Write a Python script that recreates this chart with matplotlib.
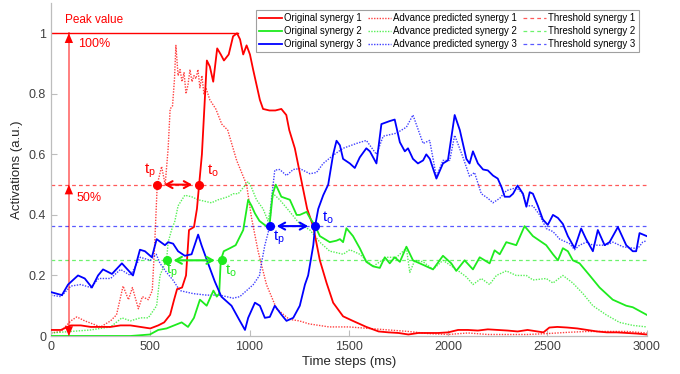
import matplotlib
matplotlib.use("Agg")
import matplotlib.pyplot as plt

plt.rcParams['font.family'] = ['Liberation Sans', 'DejaVu Sans']
plt.rcParams['mathtext.fontset'] = 'custom'
plt.rcParams['mathtext.rm'] = 'Liberation Sans'

# ---------------- data ----------------
red_orig_t = [0, 50, 100, 150, 200, 250, 300, 350, 400, 450, 500, 540, 570, 600, 620, 635, 660, 680, 695, 720,
              735, 746, 760, 785, 800, 817, 837, 855, 871, 895, 917, 937, 952, 968, 985, 1002, 1018, 1052, 1068,
              1100, 1130, 1160, 1185, 1200, 1228, 1262, 1290, 1320, 1354, 1388, 1421, 1471, 1520, 1588, 1650,
              1700, 1750, 1800, 1850, 1900, 1950, 2000, 2050, 2100, 2150, 2200, 2250, 2300, 2350, 2400, 2450,
              2480, 2510, 2550, 2600, 2650, 2700, 2750, 2800, 2850, 2900, 2950, 3000]
red_orig_v = [0.02, 0.02, 0.035, 0.035, 0.03, 0.03, 0.03, 0.035, 0.035, 0.03, 0.025, 0.035, 0.045, 0.07, 0.12,
              0.155, 0.16, 0.2, 0.35, 0.36, 0.42, 0.5, 0.6, 0.91, 0.89, 0.84, 0.95, 0.93, 0.91, 0.93, 0.99, 1.0,
              0.98, 0.93, 0.96, 0.93, 0.88, 0.78, 0.75, 0.745, 0.745, 0.75, 0.73, 0.68, 0.62, 0.51, 0.42, 0.363,
              0.25, 0.175, 0.11, 0.065, 0.05, 0.03, 0.015, 0.012, 0.01, 0.005, 0.01, 0.01, 0.01, 0.012, 0.02,
              0.02, 0.018, 0.022, 0.02, 0.018, 0.015, 0.02, 0.015, 0.012, 0.028, 0.03, 0.028, 0.025, 0.02,
              0.015, 0.012, 0.012, 0.01, 0.008, 0.005]

red_pred_t = [0, 50, 100, 130, 170, 210, 250, 300, 330, 363, 390, 410, 440, 460, 490, 510, 522, 535, 557, 575,
              590, 600, 612, 622, 629, 640, 650, 660, 670, 680, 690, 700, 710, 720, 730, 740, 750, 760, 770, 780,
              800, 830, 860, 890, 917, 935, 960, 985, 1010, 1043, 1085, 1136, 1200, 1250, 1300, 1400, 1500, 1600,
              1700, 1800, 1900, 2000, 2100, 2200, 2300, 2400, 2500, 2600, 2700, 2800, 2900, 3000]
red_pred_v = [0.01, 0.015, 0.05, 0.063, 0.05, 0.04, 0.03, 0.05, 0.07, 0.165, 0.12, 0.16, 0.09, 0.13, 0.12, 0.15,
              0.3, 0.5, 0.56, 0.5, 0.62, 0.75, 0.76, 0.85, 0.96, 0.86, 0.88, 0.84, 0.87, 0.8, 0.83, 0.88, 0.84,
              0.86, 0.85, 0.88, 0.82, 0.86, 0.8, 0.82, 0.78, 0.75, 0.7, 0.68, 0.62, 0.58, 0.54, 0.5, 0.39, 0.28,
              0.17, 0.09, 0.055, 0.05, 0.04, 0.03, 0.03, 0.025, 0.02, 0.015, 0.008, 0.005, 0.01, 0.005, 0.005,
              0.005, 0.008, 0.012, 0.015, 0.015, 0.015, 0.01]

green_orig_t = [0, 100, 200, 300, 400, 498, 540, 582, 620, 658, 690, 720, 750, 784, 818, 835, 847, 855, 870, 901,
                930, 968, 993, 1010, 1027, 1050, 1070, 1090, 1100, 1117, 1132, 1160, 1203, 1237, 1253, 1287,
                1304, 1329, 1354, 1404, 1438, 1455, 1471, 1488, 1521, 1555, 1588, 1622, 1656, 1681, 1706, 1731,
                1757, 1790, 1823, 1874, 1924, 1974, 2016, 2041, 2083, 2125, 2159, 2209, 2234, 2260, 2293, 2343,
                2385, 2427, 2494, 2528, 2553, 2578, 2603, 2628, 2662, 2713, 2763, 2829, 2897, 2930, 3000]
green_orig_v = [0, 0, 0, 0, 0, 0.005, 0.02, 0.025, 0.035, 0.045, 0.03, 0.06, 0.12, 0.1, 0.15, 0.13, 0.14, 0.25,
                0.28, 0.29, 0.3, 0.35, 0.45, 0.43, 0.405, 0.38, 0.37, 0.36, 0.363, 0.47, 0.5, 0.46, 0.45, 0.4,
                0.4, 0.41, 0.39, 0.365, 0.33, 0.31, 0.315, 0.32, 0.31, 0.356, 0.33, 0.29, 0.245, 0.23, 0.225,
                0.26, 0.24, 0.26, 0.245, 0.295, 0.25, 0.235, 0.22, 0.265, 0.24, 0.215, 0.25, 0.22, 0.26, 0.24,
                0.283, 0.27, 0.31, 0.3, 0.363, 0.33, 0.3, 0.27, 0.25, 0.29, 0.28, 0.25, 0.24, 0.2, 0.16, 0.12,
                0.1, 0.095, 0.07]

green_pred_t = [0, 100, 200, 247, 300, 357, 400, 450, 490, 532, 549, 574, 582, 590, 607, 624, 640, 674, 708, 741,
                808, 842, 892, 917, 943, 993, 1010, 1035, 1068, 1093, 1119, 1152, 1203, 1253, 1304, 1354, 1404,
                1421, 1471, 1505, 1555, 1622, 1690, 1740, 1790, 1807, 1832, 1874, 1924, 1974, 2041, 2092, 2125,
                2167, 2209, 2243, 2293, 2343, 2394, 2427, 2494, 2528, 2578, 2628, 2679, 2729, 2796, 2863, 2930,
                3000]
green_pred_v = [0.01, 0.015, 0.02, 0.025, 0.03, 0.06, 0.05, 0.06, 0.06, 0.1, 0.2, 0.24, 0.25, 0.31, 0.35, 0.38,
                0.43, 0.465, 0.46, 0.45, 0.44, 0.45, 0.46, 0.47, 0.47, 0.51, 0.49, 0.45, 0.42, 0.38, 0.47, 0.45,
                0.41, 0.37, 0.35, 0.31, 0.28, 0.278, 0.27, 0.285, 0.27, 0.23, 0.26, 0.26, 0.29, 0.21, 0.25,
                0.245, 0.22, 0.25, 0.22, 0.195, 0.17, 0.19, 0.17, 0.2, 0.215, 0.2, 0.2, 0.185, 0.19, 0.175, 0.2,
                0.175, 0.14, 0.1, 0.07, 0.045, 0.035, 0.03]

blue_orig_t = [0, 55, 86, 136, 170, 206, 237, 262, 307, 357, 413, 448, 473, 508, 532, 574, 590, 615, 640, 674,
               708, 741, 758, 791, 825, 858, 909, 951, 977, 993, 1027, 1052, 1077, 1102, 1127, 1161, 1186, 1220,
               1253, 1279, 1295, 1321, 1330, 1346, 1371, 1396, 1421, 1438, 1455, 1471, 1505, 1530, 1555, 1588,
               1606, 1639, 1664, 1706, 1731, 1757, 1782, 1798, 1823, 1848, 1874, 1890, 1908, 1941, 1974, 1999,
               2033, 2059, 2092, 2108, 2125, 2150, 2176, 2200, 2226, 2250, 2270, 2285, 2310, 2327, 2350, 2377,
               2394, 2411, 2427, 2452, 2477, 2502, 2528, 2553, 2578, 2603, 2637, 2670, 2695, 2729, 2754, 2788,
               2813, 2855, 2897, 2930, 2947, 2964, 3000]
blue_orig_v = [0.145, 0.135, 0.17, 0.2, 0.19, 0.16, 0.2, 0.22, 0.205, 0.24, 0.2, 0.285, 0.28, 0.26, 0.32, 0.3,
               0.31, 0.305, 0.28, 0.265, 0.27, 0.335, 0.3, 0.24, 0.18, 0.13, 0.1, 0.05, 0.02, 0.06, 0.11, 0.1,
               0.06, 0.063, 0.1, 0.07, 0.05, 0.06, 0.1, 0.17, 0.2, 0.3, 0.363, 0.42, 0.465, 0.5, 0.6, 0.645,
               0.63, 0.585, 0.57, 0.555, 0.59, 0.62, 0.61, 0.57, 0.7, 0.71, 0.715, 0.64, 0.61, 0.62, 0.585,
               0.57, 0.58, 0.6, 0.585, 0.52, 0.57, 0.58, 0.73, 0.68, 0.585, 0.57, 0.61, 0.57, 0.55, 0.547,
               0.53, 0.52, 0.49, 0.46, 0.46, 0.47, 0.497, 0.47, 0.427, 0.475, 0.47, 0.43, 0.385, 0.367, 0.4,
               0.39, 0.37, 0.33, 0.29, 0.355, 0.32, 0.28, 0.35, 0.3, 0.31, 0.36, 0.3, 0.28, 0.28, 0.34, 0.33]

blue_pred_t = [0, 50, 100, 150, 200, 240, 300, 350, 400, 450, 500, 530, 549, 582, 614, 649, 716, 784, 850, 917,
               951, 985, 1019, 1050, 1060, 1077, 1093, 1102, 1110, 1127, 1152, 1186, 1220, 1253, 1304, 1337,
               1371, 1421, 1471, 1538, 1588, 1639, 1673, 1740, 1790, 1823, 1874, 1907, 1941, 1974, 2008, 2033,
               2075, 2108, 2133, 2167, 2200, 2226, 2260, 2293, 2343, 2377, 2394, 2427, 2461, 2494, 2528, 2562,
               2612, 2637, 2662, 2696, 2729, 2763, 2796, 2830, 2880, 2930, 2956, 2980, 3000]
blue_pred_v = [0.135, 0.13, 0.165, 0.17, 0.16, 0.19, 0.19, 0.22, 0.2, 0.26, 0.25, 0.27, 0.24, 0.21, 0.185, 0.15,
               0.14, 0.135, 0.135, 0.125, 0.13, 0.15, 0.17, 0.2, 0.24, 0.3, 0.34, 0.363, 0.45, 0.548, 0.55,
               0.53, 0.55, 0.553, 0.536, 0.54, 0.57, 0.597, 0.62, 0.636, 0.646, 0.6, 0.66, 0.67, 0.69, 0.73,
               0.636, 0.646, 0.526, 0.58, 0.58, 0.663, 0.59, 0.527, 0.54, 0.47, 0.455, 0.44, 0.455, 0.48, 0.49,
               0.47, 0.43, 0.43, 0.4, 0.355, 0.345, 0.32, 0.305, 0.285, 0.3, 0.31, 0.3, 0.3, 0.3, 0.31, 0.295,
               0.29, 0.29, 0.31, 0.315]

thresholds = [0.5, 0.25, 0.363]
tp_times = [535, 582, 1102]
to_times = [746, 860, 1330]
peak_value = 1.0
x_ticks = [0, 500, 1000, 1500, 2000, 2500, 3000]
y_ticks = [0, 0.2, 0.4, 0.6, 0.8, 1]
y_tick_labels = ['0', '0.2', '0.4', '0.6', '0.8', '1']

RED = '#ff0000'
GREEN = '#1eeb1e'
BLUE = '#0000ff'
colors = [RED, GREEN, BLUE]

# ---------------- figure ----------------
fig = plt.figure(figsize=(6.8, 3.74), dpi=100)
ax = fig.add_axes([0.075, 0.1016, 0.876, 0.8904])

origs = [(red_orig_t, red_orig_v), (green_orig_t, green_orig_v), (blue_orig_t, blue_orig_v)]
preds = [(red_pred_t, red_pred_v), (green_pred_t, green_pred_v), (blue_pred_t, blue_pred_v)]

h_orig, h_pred, h_thr = [], [], []
for i, c in enumerate(colors):
    l, = ax.plot(origs[i][0], origs[i][1], color=c, lw=1.3, label=f'Original synergy {i+1}', zorder=3)
    h_orig.append(l)
for i, c in enumerate(colors):
    l, = ax.plot(preds[i][0], preds[i][1], color=c, lw=1.0, ls=(0, (1, 1)), alpha=0.75,
                 label=f'Advance predicted synergy {i+1}', zorder=2)
    h_pred.append(l)
for i, c in enumerate(colors):
    l = ax.axhline(thresholds[i], color=c, lw=0.9, ls=(0, (3, 2.5)), alpha=0.65,
                   label=f'Threshold synergy {i+1}', zorder=1)
    h_thr.append(l)

# peak line & percentage arrow
ax.plot([0, 940], [peak_value, peak_value], color=RED, lw=1.0, zorder=2)
ax.text(70, 1.045, 'Peak value', color=RED, fontsize=8.5, ha='left', va='center')
ax.plot([90, 90], [0, peak_value], color=RED, lw=1.4, alpha=0.5, zorder=2)
hp = dict(arrowstyle='-|>,head_length=0.7,head_width=0.3', color=RED, lw=0, shrinkA=0, shrinkB=0)
ax.annotate('', xy=(90, peak_value), xytext=(90, peak_value - 0.05), arrowprops=hp)
ax.annotate('', xy=(90, 0.5), xytext=(90, 0.45), arrowprops=hp)
ax.annotate('', xy=(90, 0.0), xytext=(90, 0.05), arrowprops=hp)
ax.text(135, 0.965, '100%', color=RED, fontsize=9, ha='left', va='center')
ax.text(130, 0.455, '50%', color=RED, fontsize=9, ha='left', va='center')

# tp / to markers and arrows
label_pos = [
    ((500, 0.545, 'center'), (815, 0.545, 'center')),
    ((610, 0.215, 'center'), (905, 0.215, 'center')),
    ((1150, 0.325, 'center'), (1395, 0.39, 'center')),
]
for i, c in enumerate(colors):
    thr = thresholds[i]
    ax.plot([tp_times[i], to_times[i]], [thr, thr], 'o', color=c, ms=5.5, zorder=5)
    ax.annotate('', xy=(to_times[i], thr), xytext=(tp_times[i], thr),
                arrowprops=dict(arrowstyle='<->,head_length=0.45,head_width=0.25', color=c, lw=1.5,
                                shrinkA=5, shrinkB=5), zorder=5)
    (px, py, pha), (ox, oy, oha) = label_pos[i]
    ax.text(px, py, r'$\mathrm{t_p}$', color=c, fontsize=11, ha=pha, va='center')
    ax.text(ox, oy, r'$\mathrm{t_o}$', color=c, fontsize=11, ha=oha, va='center')

# axes styling
ax.set_xlim(0, 3000)
ax.set_ylim(0, 1.1)
ax.set_xticks(x_ticks)
ax.set_yticks(y_ticks)
ax.set_yticklabels(y_tick_labels)
for s in ['top', 'right']:
    ax.spines[s].set_visible(False)
for s in ['left', 'bottom']:
    ax.spines[s].set_color('#bdbdbd')
    ax.spines[s].set_linewidth(0.9)
ax.tick_params(direction='in', length=4, color='#bdbdbd', labelcolor='#404040', labelsize=9)
ax.set_xlabel('Time steps (ms)', fontsize=9.5, color='#262626', labelpad=2)
ax.set_ylabel('Activations (a.u.)', fontsize=9.5, color='#262626', labelpad=4)

handles = h_orig + h_pred + h_thr
leg = ax.legend(handles=handles, ncol=3, loc='upper right', bbox_to_anchor=(0.99, 0.985),
                fontsize=6.9, frameon=True, fancybox=False, framealpha=1, edgecolor='#a0a0a0',
                handlelength=2.4, handletextpad=0.25, columnspacing=0.6, labelspacing=0.3,
                borderpad=0.35, borderaxespad=0.2)
leg.get_frame().set_linewidth(0.8)

fig.savefig('out.png', dpi=100)
